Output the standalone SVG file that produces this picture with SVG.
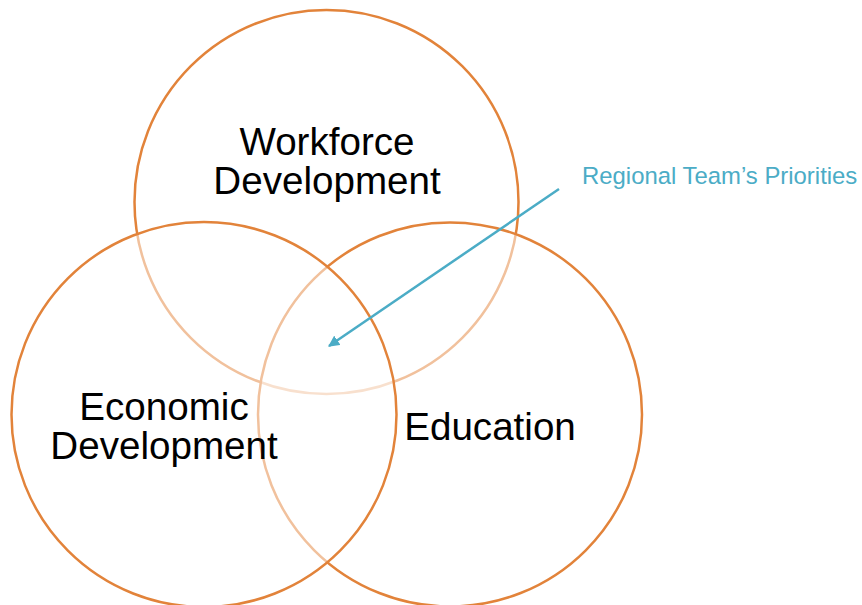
<svg xmlns="http://www.w3.org/2000/svg" width="862" height="605" viewBox="0 0 862 605">
  <style>
    .ring { fill: #ffffff; fill-opacity: 0.5; stroke: #E2833A; stroke-width: 2.5; }
    .label { font-family: "Liberation Sans", Arial, sans-serif; font-size: 38.6px; fill: #000000; text-anchor: middle; }
    .note { font-family: "Liberation Sans", Arial, sans-serif; font-size: 23.9px; fill: #4BACC6; }
    .pointer { stroke: #4BACC6; stroke-width: 2.5; fill: none; }
  </style>
  <defs>
    <marker id="arrowhead" viewBox="0 0 10 10" refX="9" refY="5" markerWidth="4.5" markerHeight="4.5" orient="auto" markerUnits="strokeWidth">
      <path d="M0,0 L10,5 L0,10 z" fill="#4BACC6"/>
    </marker>
  </defs>
  <rect width="862" height="605" fill="#ffffff"/>

  <!-- drawing order sets which outlines show through the half-white fills -->
  <g id="workforce">
    <circle class="ring" cx="326.5" cy="202" r="192"/>
  </g>
  <g id="education">
    <circle class="ring" cx="450" cy="414.5" r="192"/>
  </g>
  <g id="economic">
    <circle class="ring" cx="204" cy="414.5" r="192.5"/>
  </g>

  <g id="labels">
    <text class="label" x="327" y="155">Workforce</text>
    <text class="label" x="327" y="194">Development</text>
    <text class="label" x="164" y="420">Economic</text>
    <text class="label" x="164" y="459">Development</text>
    <text class="label" x="490" y="440">Education</text>
  </g>

  <g id="priorities-note">
    <text class="note" x="582" y="184">Regional Team’s Priorities</text>
  </g>

  <g id="connectors">
    <line class="pointer" x1="559" y1="189" x2="329" y2="346" marker-end="url(#arrowhead)"/>
  </g>
</svg>
